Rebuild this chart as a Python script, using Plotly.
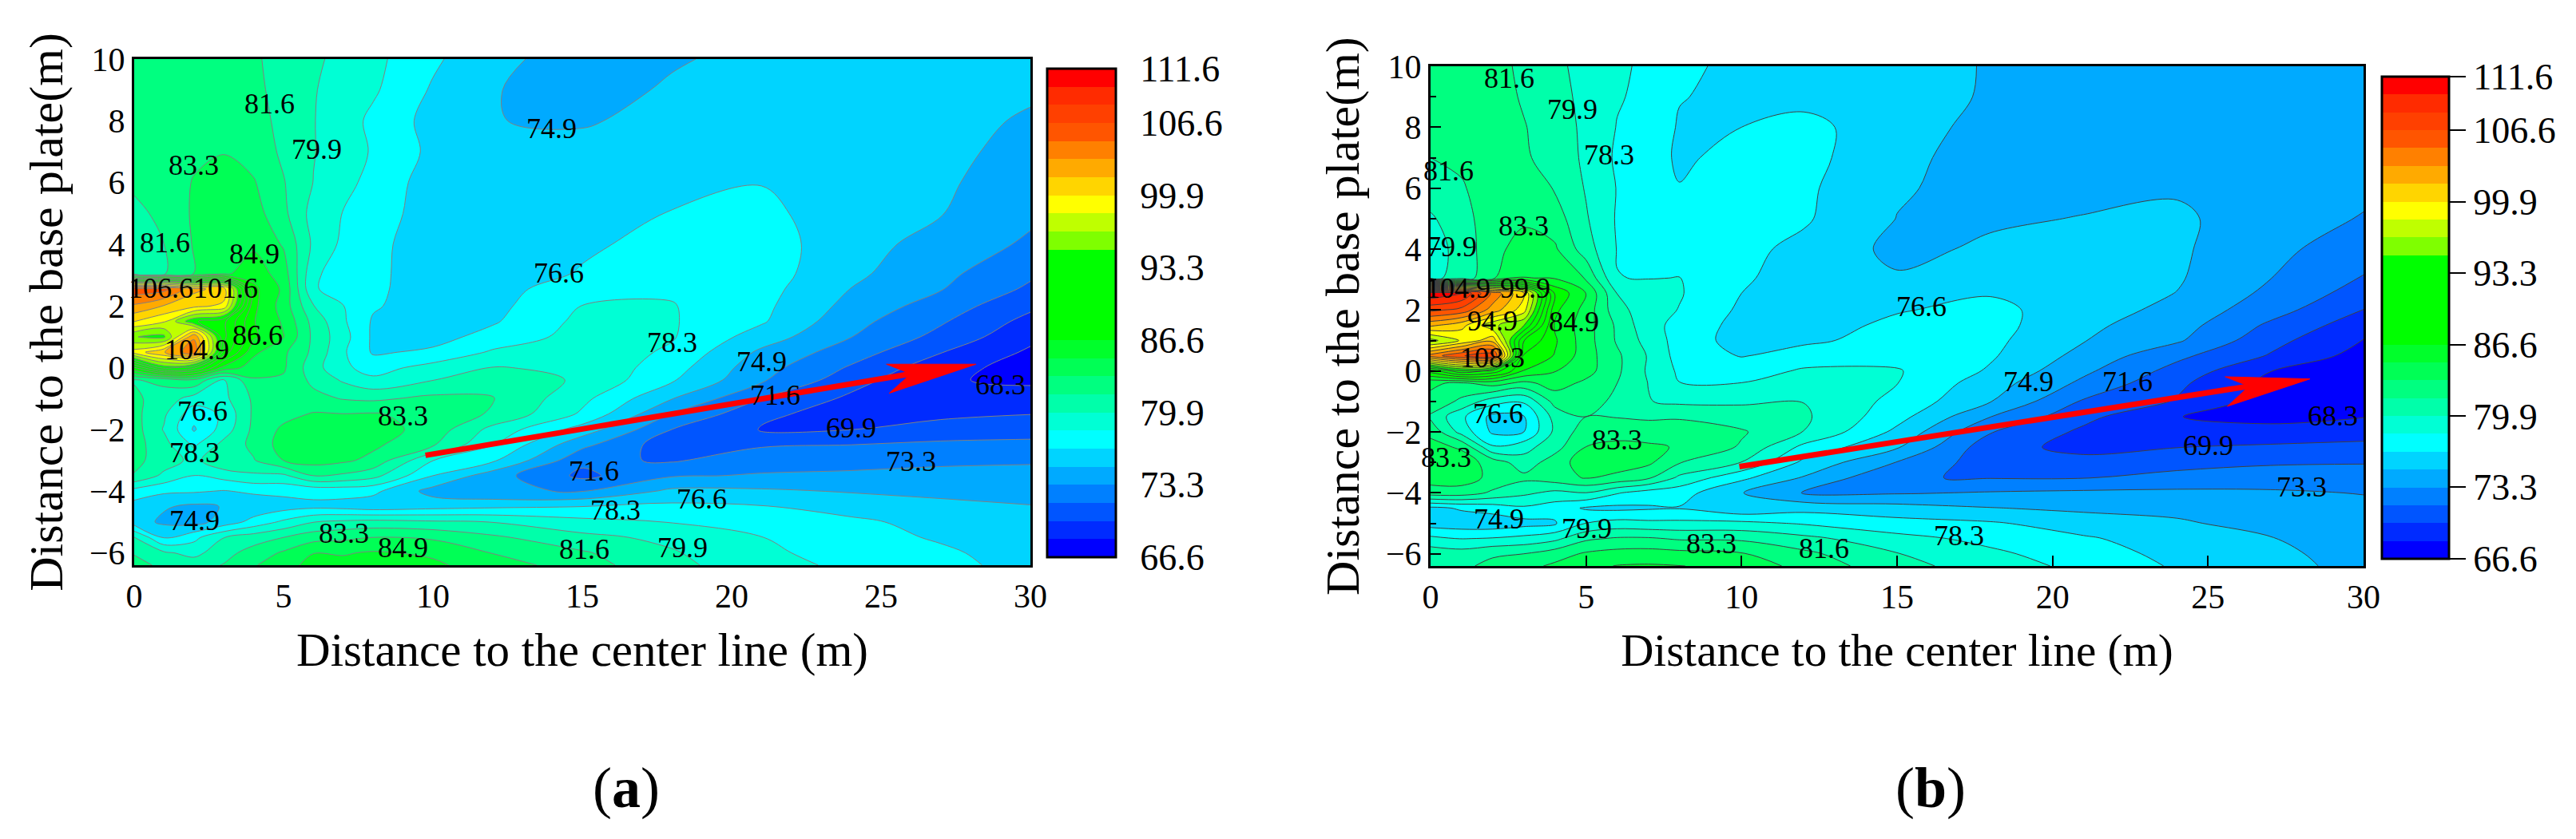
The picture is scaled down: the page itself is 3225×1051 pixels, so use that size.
import plotly.graph_objects as go

W, H = 3225, 1051
x_grid = [0, 1, 2, 3, 4, 5, 6, 7, 8, 10, 12, 15, 18, 21, 24, 27, 30]
y_grid = [10, 9, 8, 7, 6, 5, 4, 3.05, 2.55, 2, 1.5, 1, 0.5, 0, -0.4, -1, -1.5, -2, -2.5, -3, -3.5, -4, -4.5, -5, -5.5, -6, -6.4]

z_a = [
 [83,83,83,82.9,81.9,80.8,80.2,79.5,78.7,76.9,75.3,74.3,74.8,75.3,75.5,75.5,75.4],
 [83,83,83,82.8,82,81,80,79.5,78.5,76.4,75,74.4,75.1,75.5,75.6,75.4,75.1],
 [83,83,83,82.9,82.3,81.1,80,79,77.9,76,74.95,74.85,75.2,75.5,75.5,75.3,74.8],
 [82.9,82.9,83,83.2,82.6,81.3,80,79.1,78.1,76.2,75.4,75.2,75.4,75.5,75.4,75.2,74.6],
 [81.9,82.5,83.35,83.9,83.4,81.7,79.9,78.9,77.6,75.9,75.6,75.7,76.1,76.55,75.7,75.2,74],
 [81.2,82,83.5,84.2,84,82,79.3,78.2,77.1,76.1,76.1,76.2,76.65,77,75.7,75,73.6],
 [80.9,81.6,83.4,84.4,84.6,83.1,79.6,77.9,77,75.8,76.3,76.4,77,77.4,75.6,74.3,73],
 [80.8,81.4,83.3,84.6,85.9,84.1,78.6,77.4,76.9,75.9,75.9,76.7,77.5,77.4,75.3,73.7,71.9],
 [106,105.5,102,101,87,84.6,78.4,77.7,76.9,75.8,76,77.5,78.05,77.2,74.9,73.35,71.3],
 [103,101.5,100.5,99.5,87,84.2,80,78.3,76.8,75.6,76.1,78.3,78.35,77,74.4,72.5,70.3],
 [100,98.5,93.5,92,86.7,84.7,81,78.5,76.4,75.6,76.4,78.7,78.4,76.8,73.8,71.8,69.4],
 [95,94.5,103,92,86.9,85,81.2,78.9,76.3,76,77.2,78.9,78.4,75.8,73.3,71.1,68.7],
 [99,101.5,104.5,91,85.3,83.6,81.2,78.5,76.4,76.9,78.5,79.3,78,74.6,72.4,70,68],
 [88,94,92,86,84.1,83.5,80.6,78.6,77.6,78.9,80,79.7,77.3,73.9,71.4,68.9,67.6],
 [81.5,82,83,79.7,83.1,83,81.2,79.7,78.6,79.9,80.9,79.7,76.8,73.5,70.6,68.4,68],
 [81.9,80.9,79.2,79.5,81.9,82.2,82.1,81.5,81.3,82,81.7,78.7,75,71.6,69.6,68.5,68.9],
 [82.1,80.2,77.2,78.6,81.9,82.7,83.4,83.3,83.4,82.7,81.4,78,73.2,70.3,69.2,69.5,69.9],
 [82.3,79.8,76.4,79,82,83.6,84.2,84.2,84,82.6,79.4,75.9,71.6,69.8,69.9,70.7,70.9],
 [82.3,80.5,78,80.5,82,84,84.5,84.3,83.6,81.8,78.3,73.7,70.6,71.4,71.6,71.9,72],
 [82,80.9,79.4,81.5,81.5,83.3,84,83.6,82.8,78.3,76.9,72,71.4,72.6,72.6,72.9,73.1],
 [81.5,79.5,78.2,78.9,79.6,79.6,81.6,81.3,80.5,76.6,74,71.2,73.1,73.4,73.6,73.8,73.7],
 [77.6,76.9,76.8,76.5,76.9,77,77.1,77.2,77,74.3,73.4,73.2,75.3,75.2,74.8,74.5,74.4],
 [75.9,75.1,74.6,75,75.4,75.9,76.2,76,75.6,76,76.3,76.6,77,76.7,76,75.4,75],
 [75.7,74.6,74.3,75.6,77.2,78.6,79.9,80.3,80.5,80.2,79.9,78.8,78.2,77.3,76.9,76.1,75.4],
 [80,76.5,77.8,79.9,80.8,81.6,82.6,82.9,83.3,83,81.9,80.4,79.5,78.3,77.3,76.4,75.7],
 [81.4,80.2,79.4,81,82.3,83.5,84.9,84.8,85.1,84.7,83.2,81.8,80.1,78.6,77.6,76.9,75.8],
 [82.5,81,80.9,81.7,83.1,84.4,85.4,85.4,85.8,85.2,84.2,82.3,80.4,78.9,77.9,77.2,75.9],
]

z_b = [
 [83,82.7,82.1,81.3,80.3,79.4,78.6,77.9,77.1,76,75.6,75.7,74.8,74.5,74.5,74.3,74],
 [83,82.6,82.4,81.4,80.5,79.5,78.4,77.9,76.7,76.1,76,75.5,74.8,74.3,74.3,74.1,73.9],
 [82.7,82.3,82.7,81.7,80.7,79.6,78.2,78,76.4,76.6,77.2,75.4,74.6,74.2,74.1,73.9,73.8],
 [81.6,82,82.7,81.8,81,79.6,78,77.8,76.2,77.4,77.2,75.2,74.5,74.2,74,73.8,73.7],
 [80.8,81.4,82.7,82.3,81.5,79.8,78.2,77.8,76.7,77.4,76.9,75.1,74.4,74.5,74.7,73.7,73.5],
 [79.7,81,82.5,83,82.4,80.1,78.1,77.8,77.3,77.3,76.8,74.9,74.7,75,75.3,73.8,73.2],
 [79.2,80.5,82.8,83.9,83.5,80.7,78.2,77.9,77.5,77,76.2,74.5,75.2,75.4,75.2,73.7,72.4],
 [79.5,80.6,83,85,84.8,83.1,78.3,78.2,78.3,76.9,75.6,75.1,76,75.8,75.1,73.3,71.5],
 [111.3,110,104.5,100,88,84.9,79.9,79.2,78.4,76.6,75.5,75.5,76.5,75.9,74.9,72.9,70.9],
 [107,106,102.5,99,87,84.3,80.5,79,78.2,76.3,75.6,76.5,77,75.8,74.4,72.3,69.9],
 [102,100.5,97,95,86.4,84,81.3,78.8,77.8,76,76,76.9,77.2,75.3,74,71.3,69],
 [96,98.5,101,90,86.8,84,81.4,79.3,77.6,75.9,76.3,77.2,77,75,73.5,70.5,68.2],
 [104,106.5,107.5,88,86.5,84,81.9,79.8,77.6,76.5,77.3,77.7,76.8,74.4,72,69.8,67.6],
 [89,93,91,86.5,85,83.9,81.9,79.7,78,77.4,78.5,78.4,76.4,73.6,71,68.3,67],
 [83.5,83,84,82.8,84,82.9,81.6,79.9,78.3,78.3,79.5,78.3,75.7,72.9,70.3,67.8,66.9],
 [82.9,81.2,79,78.5,82.2,82.5,81.1,80,79.6,79.7,79.9,77.8,75,71.4,69.8,67.4,67.4],
 [81.3,78.6,76.1,76.5,80.6,81.6,81.5,81.2,81.4,80.7,80.2,77.2,73.3,70.4,68.3,67.8,68.2],
 [82.8,79.3,76.3,76.6,80.3,82.5,82.8,82.9,82.5,81.8,79.9,76.2,71.7,69.6,68.9,68.8,69.2],
 [83.9,83,78.5,79.3,81,83.3,83.6,83.4,83.2,81.4,77.8,75.1,70.6,69.4,69.9,70.2,70.4],
 [84.3,84.2,82.5,80.7,82.4,84.2,84,83.6,81.7,79.9,76.2,73.2,70.7,70.5,70.9,71.4,71.5],
 [84,84.1,82.8,82,82.6,83.4,82.9,81.9,79.6,77,74.8,71.7,71.5,71.5,72.2,72.4,72.4],
 [82.5,82.5,81.3,80.3,79.5,79.9,78.4,77.5,77.3,75,73.2,73.1,73.4,73.6,73.6,73.5,73.2],
 [76.2,76.8,77.3,78,77.4,76.4,76.2,76.4,76.5,75.2,76,75.6,75,74.6,74.6,74,73.7],
 [75.8,75.6,75.5,76,76.4,78.3,78.9,78.7,78.7,78.7,78.1,77.2,76.8,75.8,75.1,74.5,74],
 [78.7,78.2,78.4,78.8,79.5,81.3,81.8,81.8,81.4,81.3,80.4,78.8,77.8,76.8,75.8,75,74.1],
 [81,80.7,81.4,81.6,82.5,83.5,83.9,84,83.8,83.4,82,80,78.6,77.4,76.1,75.3,74.3],
 [81.3,81.3,82,82.7,83.6,84.5,85,85.1,85,84.3,82.7,80.5,79.1,77.8,76.4,75.5,74.4],
]

band_colors = ["#0000ff","#002bff","#0055ff","#0080ff","#00aaff","#00d4ff","#00ffff",
               "#00ffd5","#00ffaa","#00ff80","#00ff55","#00ff2b",
               "#00ff00","#00ff00","#00ff00","#00ff00","#00ff00",
               "#7fff00","#bfff00","#ffff00","#ffd500","#ffaa00","#ff8000",
               "#ff5500","#ff4000","#ff2b00","#ff0000"]
level_start, level_end = 66.6, 111.6
level_ticks = [66.6, 73.3, 79.9, 86.6, 93.3, 99.9, 106.6, 111.6]
level_labels = ["66.6", "73.3", "79.9", "86.6", "93.3", "99.9", "106.6", "111.6"]

labels_a = [("81.6",4.53,8.56),("83.3",2.0,6.57),("79.9",6.11,7.08),("74.9",13.98,7.75),("81.6",1.02,4.05),
            ("84.9",4.02,3.7),("106.6",0.89,2.57),("101.6",3.07,2.57),("86.6",4.12,1.05),("104.9",2.11,0.59),
            ("76.6",14.2,3.07),("83.3",9.0,-1.57),("76.6",2.29,-1.4),("78.3",2.02,-2.76),("74.9",2.02,-4.95),
            ("71.6",15.39,-3.36),("78.3",16.1,-4.62),("83.3",7.03,-5.36),("84.9",9.0,-5.82),("81.6",15.07,-5.88),
            ("78.3",18.02,0.83),("74.9",21.0,0.2),("71.6",21.45,-0.9),("69.9",24.0,-1.95),("68.3",29.0,-0.55),
            ("73.3",26.0,-3.04),("76.6",19.0,-4.26),("79.9",18.36,-5.83)]
labels_b = [("81.6",2.53,9.61),("79.9",4.56,8.59),("78.3",5.74,7.1),("81.6",0.59,6.58),("83.3",2.99,4.77),
            ("79.9",0.67,4.09),("104.9",0.89,2.72),("99.9",3.05,2.72),("94.9",2.0,1.65),("84.9",4.6,1.61),
            ("108.3",2.0,0.44),("76.6",15.79,2.11),("76.6",2.18,-1.39),("83.3",6.0,-2.27),("83.3",0.5,-2.85),
            ("74.9",2.2,-4.85),("79.9",5.02,-5.16),("83.3",9.02,-5.67),("81.6",12.66,-5.83),("78.3",17.0,-5.4),
            ("74.9",19.22,-0.36),("71.6",22.4,-0.36),("68.3",29.0,-1.47),("69.9",25.0,-2.45),("73.3",28.0,-3.81)]

shaft_a_x, shaft_a_y = [9.75, 26.0], [-2.84, -0.2]
head_a_x, head_a_y = [28.18, 25.18, 26.0, 25.27, 28.18], [0.113, 0.113, -0.2, -0.83, 0.113]
shaft_b_x, shaft_b_y = [9.93, 26.32], [-3.14, -0.5]
head_b_x, head_b_y = [28.28, 25.55, 26.32, 25.62, 28.28], [-0.26, -0.19, -0.5, -1.16, -0.26]

SERIF = "Liberation Serif"
SMOOTH = 1.0
n = len(band_colors)
scale = []
for i, c in enumerate(band_colors):
    scale += [[i / n, c], [(i + 1) / n, c]]

def cbar(x0, x1, y0, y1, tick_col, tick_len):
    return dict(x=x0 / W, xanchor="left", xpad=0, y=1 - y1 / H, yanchor="bottom", ypad=0,
                len=(y1 - y0) / H, lenmode="fraction", thickness=x1 - x0, thicknessmode="pixels",
                outlinecolor="black", outlinewidth=3, tickmode="array", tickvals=level_ticks,
                ticktext=level_labels, tickfont=dict(family=SERIF, size=46, color="black"),
                ticks="outside", ticklen=tick_len, tickwidth=2, tickcolor=tick_col)

def contour_fill(z, axx, axy, bar):
    return go.Contour(x=x_grid, y=y_grid[::-1], z=z[::-1], xaxis=axx, yaxis=axy, zmin=level_start, zmax=level_end,
                      autocontour=False, contours=dict(start=level_start, end=level_end, size=(level_end - level_start) / n,
                                                       coloring="fill", showlines=False),
                      colorscale=scale, line=dict(width=0, smoothing=SMOOTH), colorbar=bar,
                      hoverinfo="skip", showscale=True)

def contour_lines(z, axx, axy, line_color):
    return go.Contour(x=x_grid, y=y_grid[::-1], z=z[::-1], xaxis=axx, yaxis=axy, zmin=level_start, zmax=level_end,
                      autocontour=False, contours=dict(start=level_start, end=level_end, size=(level_end - level_start) / n,
                                                       coloring="none"),
                      line=dict(color=line_color, width=1, smoothing=SMOOTH), showscale=False, hoverinfo="skip")

def arrow(sx, sy, hx, hy, axx, axy):
    return [go.Scatter(x=sx, y=sy, xaxis=axx, yaxis=axy, mode="lines", line=dict(color="#ff0000", width=7),
                       showlegend=False, hoverinfo="skip"),
            go.Scatter(x=hx, y=hy, xaxis=axx, yaxis=axy, mode="lines", fill="toself", fillcolor="#ff0000",
                       line=dict(color="#ff0000", width=1), showlegend=False, hoverinfo="skip")]

fig = go.Figure()
fig.add_trace(contour_fill(z_a, "x", "y", cbar(1311, 1397, 86, 698, "rgba(0,0,0,0)", 20)))
fig.add_trace(contour_lines(z_a, "x", "y", "#808080"))
fig.add_trace(contour_fill(z_b, "x2", "y2", cbar(2982, 3066, 96, 700, "black", 20)))
fig.add_trace(contour_lines(z_b, "x2", "y2", "#404040"))
for t in arrow(shaft_a_x, shaft_a_y, head_a_x, head_a_y, "x", "y") + arrow(shaft_b_x, shaft_b_y, head_b_x, head_b_y, "x2", "y2"):
    fig.add_trace(t)

def xaxis(x0, x1, anchor, ticks, title_size):
    a = dict(domain=[x0 / W, x1 / W], range=[0, 30], anchor=anchor, tickvals=[0, 5, 10, 15, 20, 25, 30], showgrid=False,
             zeroline=False, showline=True, mirror=True, linecolor="black", linewidth=3, layer="above traces",
             tickfont=dict(family=SERIF, size=42, color="black"),
             title=dict(text="Distance to the center line (m)", font=dict(family=SERIF, size=title_size, color="black"), standoff=24))
    if ticks:
        a.update(ticks="inside", ticklen=13, tickwidth=2, tickcolor="black")
    else:
        a.update(ticks="")
    return a

def yaxis(y0, y1, anchor, ticks):
    a = dict(domain=[1 - y1 / H, 1 - y0 / H], range=[-6.4, 10], anchor=anchor, tickvals=[-6, -4, -2, 0, 2, 4, 6, 8, 10],
             showgrid=False, zeroline=False, showline=True, mirror=True, linecolor="black", linewidth=3, layer="above traces",
             tickfont=dict(family=SERIF, size=42, color="black"),
             title=dict(text="Distance to the base plate(m)", font=dict(family=SERIF, size=60, color="black"), standoff=14))
    if ticks:
        a.update(ticks="inside", ticklen=13, tickwidth=2, tickcolor="black", minor=dict(ticks="inside", ticklen=7, tickwidth=2, dtick=1, tickcolor="black"))
    else:
        a.update(ticks="")
    return a

annotations = []
for labels, xr, yr in ((labels_a, "x", "y"), (labels_b, "x2", "y2")):
    for t, lx, ly in labels:
        annotations.append(dict(text=t, x=lx, y=ly, xref=xr, yref=yr, showarrow=False, xanchor="center", yanchor="middle",
                                font=dict(family=SERIF, size=36, color="black")))
for t, px in (("(<b>a</b>)", 784), ("(<b>b</b>)", 2417)):
    annotations.append(dict(text=t, x=px / W, y=1 - 987 / H, xref="paper", yref="paper", showarrow=False,
                            xanchor="center", yanchor="middle",
                            font=dict(family=SERIF, size=72, color="black")))

fig.update_layout(width=W, height=H, margin=dict(l=0, r=0, t=0, b=0, autoexpand=False), paper_bgcolor="white", plot_bgcolor="white",
                  showlegend=False, annotations=annotations,
                  xaxis=xaxis(168, 1290, "y", False, 59), yaxis=yaxis(74, 708, "x", False),
                  xaxis2=xaxis(1791, 2959, "y2", True, 57), yaxis2=yaxis(83, 709, "x2", True))
fig.write_html("out.html", config=dict(displayModeBar=False),
               post_script="document.body.style.margin='0';document.body.style.overflow='hidden';")
